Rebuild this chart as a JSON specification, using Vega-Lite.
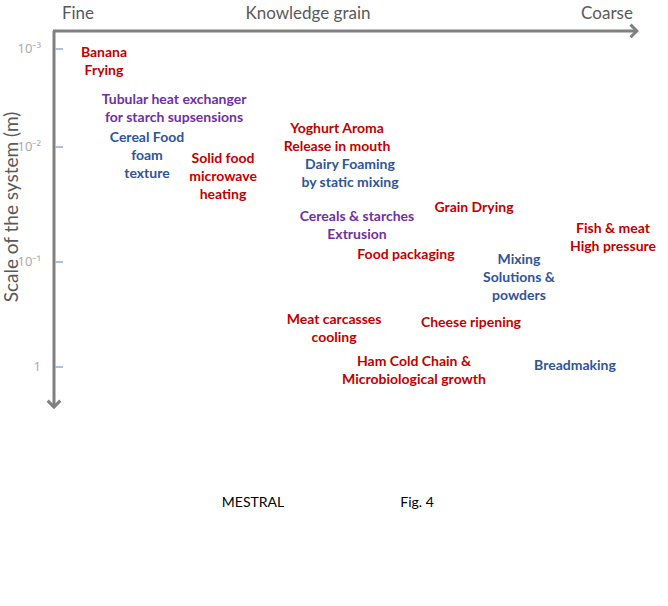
{
  "$schema": "https://vega.github.io/schema/vega-lite/v6.json",
  "width": 668,
  "height": 606,
  "autosize": {"type": "fit", "contains": "padding"},
  "padding": 0,
  "background": "white",
  "config": {"view": {"stroke": null}},
  "datasets": {
    "studies": [
      {"grain": 8.56, "log_scale": -2.959, "label": "Banana\nFrying", "group": "A"},
      {"grain": 20.55, "log_scale": -2.48, "label": "Tubular heat exchanger\nfor starch supsensions", "group": "B"},
      {"grain": 15.92, "log_scale": -2.092, "label": "Cereal Food\nfoam\ntexture", "group": "C"},
      {"grain": 28.94, "log_scale": -1.896, "label": "Solid food\nmicrowave\nheating", "group": "A"},
      {"grain": 48.46, "log_scale": -2.184, "label": "Yoghurt Aroma\nRelease in mouth", "group": "A"},
      {"grain": 50.68, "log_scale": -1.843, "label": "Dairy Foaming\nby static mixing", "group": "C"},
      {"grain": 71.92, "log_scale": -1.47, "label": "Grain Drying", "group": "A"},
      {"grain": 51.88, "log_scale": -1.391, "label": "Cereals & starches\nExtrusion", "group": "B"},
      {"grain": 60.27, "log_scale": -1.061, "label": "Food packaging", "group": "A"},
      {"grain": 95.72, "log_scale": -1.287, "label": "Fish & meat\nHigh pressure", "group": "A"},
      {"grain": 79.62, "log_scale": -1.017, "label": "Mixing\nSolutions &\npowders", "group": "C"},
      {"grain": 47.95, "log_scale": -0.448, "label": "Meat carcasses\ncooling", "group": "A"},
      {"grain": 71.4, "log_scale": -0.419, "label": "Cheese ripening", "group": "A"},
      {"grain": 61.64, "log_scale": -0.048, "label": "Ham Cold Chain &\nMicrobiological growth", "group": "A"},
      {"grain": 89.21, "log_scale": -0.01, "label": "Breadmaking", "group": "C"}
    ],
    "ticks": [
      {"log_scale": -3, "label": "10⁻³"},
      {"log_scale": -2, "label": "10⁻²"},
      {"log_scale": -1, "label": "10⁻¹"},
      {"log_scale": 0, "label": "1"}
    ],
    "arrows": [
      {"grain_from": -0.17, "grain_to": 99.8, "scale_from": -3.184, "scale_to": -3.184, "dir": "right"},
      {"grain_from": 0, "grain_to": 0, "scale_from": -3.184, "scale_to": 0.381, "dir": "down"}
    ],
    "axis_titles": [
      {"grain": 4.11, "log_scale": -3.357, "label": "Fine"},
      {"grain": 43.49, "log_scale": -3.357, "label": "Knowledge grain"},
      {"grain": 94.69, "log_scale": -3.357, "label": "Coarse"}
    ],
    "y_title": [
      {"grain": -7.19, "log_scale": -1.478, "label": "Scale of the system (m)"}
    ],
    "footer": [
      {"grain": 34.08, "log_scale": 1.295, "label": "MESTRAL"},
      {"grain": 62.16, "log_scale": 1.295, "label": "Fig. 4"}
    ]
  },
  "layer": [
    {
      "data": {"name": "arrows"},
      "mark": {"type": "rule", "color": "#808080", "strokeWidth": 3},
      "encoding": {
        "x": {"field": "grain_from", "type": "quantitative", "axis": null, "scale": {"domain": [0, 100], "range": [54, 638], "nice": false, "zero": false}},
        "x2": {"field": "grain_to"},
        "y": {"field": "scale_from", "type": "quantitative", "axis": null, "scale": {"domain": [-3, -2, -1, 0], "range": [49, 147, 262, 367], "nice": false, "zero": false}},
        "y2": {"field": "scale_to"}
      }
    },
    {
      "data": {"name": "arrows"},
      "transform": [{"filter": "datum.dir === 'right'"}],
      "mark": {"type": "point", "shape": "M -1 -1 L 0 0 L -1 1", "filled": false, "stroke": "#808080", "strokeWidth": 3, "size": 160, "opacity": 1, "strokeJoin": "miter"},
      "encoding": {
        "x": {"field": "grain_to", "type": "quantitative", "axis": null, "scale": {"domain": [0, 100], "range": [54, 638], "nice": false, "zero": false}},
        "y": {"field": "scale_to", "type": "quantitative", "axis": null, "scale": {"domain": [-3, -2, -1, 0], "range": [49, 147, 262, 367], "nice": false, "zero": false}}
      }
    },
    {
      "data": {"name": "arrows"},
      "transform": [{"filter": "datum.dir === 'down'"}],
      "mark": {"type": "point", "shape": "M -1 -1 L 0 0 L 1 -1", "filled": false, "stroke": "#808080", "strokeWidth": 3, "size": 160, "opacity": 1, "strokeJoin": "miter"},
      "encoding": {
        "x": {"field": "grain_to", "type": "quantitative", "axis": null, "scale": {"domain": [0, 100], "range": [54, 638], "nice": false, "zero": false}},
        "y": {"field": "scale_to", "type": "quantitative", "axis": null, "scale": {"domain": [-3, -2, -1, 0], "range": [49, 147, 262, 367], "nice": false, "zero": false}}
      }
    },
    {
      "data": {"name": "ticks"},
      "mark": {"type": "rule", "color": "#8FAADC", "strokeWidth": 1.5},
      "encoding": {
        "x": {"datum": 0.26, "type": "quantitative", "axis": null, "scale": {"domain": [0, 100], "range": [54, 638], "nice": false, "zero": false}},
        "x2": {"datum": 1.55},
        "y": {"field": "log_scale", "type": "quantitative", "axis": null, "scale": {"domain": [-3, -2, -1, 0], "range": [49, 147, 262, 367], "nice": false, "zero": false}}
      }
    },
    {
      "data": {"name": "ticks"},
      "mark": {"type": "text", "align": "right", "baseline": "middle", "dx": -13, "font": "Open Sans", "fontSize": 13, "color": "#A6A6A6"},
      "encoding": {
        "x": {"datum": 0, "type": "quantitative", "axis": null, "scale": {"domain": [0, 100], "range": [54, 638], "nice": false, "zero": false}},
        "y": {"field": "log_scale", "type": "quantitative", "axis": null, "scale": {"domain": [-3, -2, -1, 0], "range": [49, 147, 262, 367], "nice": false, "zero": false}},
        "text": {"field": "label"}
      }
    },
    {
      "data": {"name": "axis_titles"},
      "mark": {"type": "text", "align": "center", "baseline": "middle", "font": "Lato", "fontSize": 17, "color": "#595959"},
      "encoding": {
        "x": {"field": "grain", "type": "quantitative", "axis": null, "scale": {"domain": [0, 100], "range": [54, 638], "nice": false, "zero": false}},
        "y": {"field": "log_scale", "type": "quantitative", "axis": null, "scale": {"domain": [-3, -2, -1, 0], "range": [49, 147, 262, 367], "nice": false, "zero": false}},
        "text": {"field": "label"}
      }
    },
    {
      "data": {"name": "y_title"},
      "mark": {"type": "text", "align": "center", "baseline": "middle", "angle": 270, "font": "Lato", "fontSize": 19, "color": "#595959"},
      "encoding": {
        "x": {"field": "grain", "type": "quantitative", "axis": null, "scale": {"domain": [0, 100], "range": [54, 638], "nice": false, "zero": false}},
        "y": {"field": "log_scale", "type": "quantitative", "axis": null, "scale": {"domain": [-3, -2, -1, 0], "range": [49, 147, 262, 367], "nice": false, "zero": false}},
        "text": {"field": "label"}
      }
    },
    {
      "data": {"name": "studies"},
      "mark": {"type": "text", "align": "center", "baseline": "middle", "font": "Lato", "fontWeight": "bold", "fontSize": 14, "lineBreak": "\n", "lineHeight": 18},
      "encoding": {
        "x": {"field": "grain", "type": "quantitative", "axis": null, "scale": {"domain": [0, 100], "range": [54, 638], "nice": false, "zero": false}},
        "y": {"field": "log_scale", "type": "quantitative", "axis": null, "scale": {"domain": [-3, -2, -1, 0], "range": [49, 147, 262, 367], "nice": false, "zero": false}},
        "text": {"field": "label"},
        "color": {"field": "group", "type": "nominal", "legend": null, "scale": {"domain": ["A", "B", "C"], "range": ["#C00000", "#7030A0", "#2F5597"]}}
      }
    },
    {
      "data": {"name": "footer"},
      "mark": {"type": "text", "align": "center", "baseline": "middle", "font": "Lato", "fontSize": 14, "color": "#000000"},
      "encoding": {
        "x": {"field": "grain", "type": "quantitative", "axis": null, "scale": {"domain": [0, 100], "range": [54, 638], "nice": false, "zero": false}},
        "y": {"field": "log_scale", "type": "quantitative", "axis": null, "scale": {"domain": [-3, -2, -1, 0], "range": [49, 147, 262, 367], "nice": false, "zero": false}},
        "text": {"field": "label"}
      }
    }
  ]
}
